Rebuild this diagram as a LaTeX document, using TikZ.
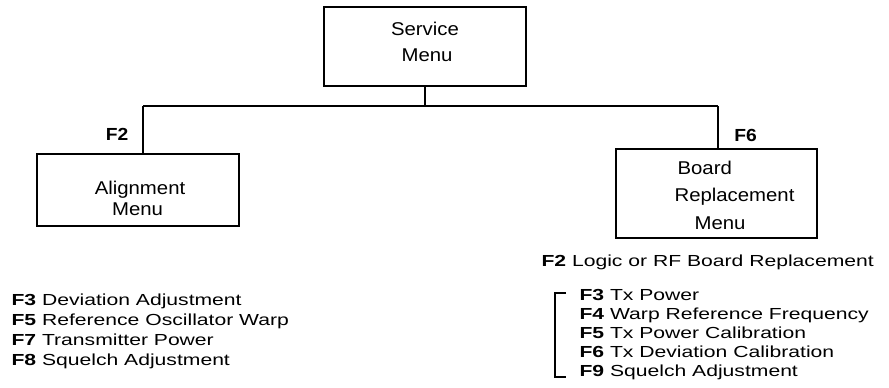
\documentclass[tikz,border=0pt]{standalone}
\usepackage{fontspec}
\setmainfont{Liberation Sans}
\newfontfamily\listfont[FakeStretch=1.32]{Liberation Sans}
\newfontfamily\boxfont[FakeStretch=1.1]{Liberation Sans}
\newfontfamily\labfont[FakeStretch=1.1]{Liberation Sans}
\begin{document}
\begin{tikzpicture}[x=1pt,y=-1pt,line width=1.1pt,
  lst/.style={font=\listfont\fontsize{16}{18}\selectfont,inner sep=0pt,anchor=base west},
  btxt/.style={font=\boxfont\fontsize{18.5}{20}\selectfont,inner sep=0pt},
  lab/.style={font=\labfont\fontsize{17.5}{19}\selectfont\bfseries,inner sep=0pt},
  box/.style={draw,inner sep=0pt}]
\useasboundingbox (0,0) rectangle (889,388);
% boxes
\node[box,minimum width=202pt,minimum height=79pt] (svc) at (425,46.5) {};
\node[box,minimum width=202pt,minimum height=72pt] (aln) at (138,190) {};
\node[box,minimum width=201pt,minimum height=89pt] (brd) at (716.5,193.5) {};
% box texts
\node[btxt,anchor=base] (svc1) at (425,35.7) {Service};
\node[btxt,anchor=base] (svc2) at (427,61) {Menu};
\node[btxt,anchor=base] (aln1) at (140,194.3) {Alignment};
\node[btxt,anchor=base] (aln2) at (137.5,215) {Menu};
\node[btxt,anchor=base west] (brd1) at (677,174.3) {Board};
\node[btxt,anchor=base west] (brd2) at (674,201.7) {Replacement};
\node[btxt,anchor=base west] (brd3) at (694,229) {Menu};
% connectors
\coordinate (hl) at (143,106);
\coordinate (hr) at (718,106);
\draw (svc.south) -- (svc.south |- hl);
\draw (hl) -- (hr);
\draw (hl) -- (hl |- aln.north);
\draw (hr) -- (hr |- brd.north);
\node[lab] (f2) at (117,134.5) {F2};
\node[lab] (f6) at (745.5,135) {F6};
% left list
\node[lst] (l1) at (11,305.7) {\textbf{F3} Deviation Adjustment};
\node[lst] (l2) at (11,325.7) {\textbf{F5} Reference Oscillator Warp};
\node[lst] (l3) at (11,345.7) {\textbf{F7} Transmitter Power};
\node[lst] (l4) at (11,365.7) {\textbf{F8} Squelch Adjustment};
% right list
\node[lst] (r0) at (541,266) {\textbf{F2} Logic or RF Board Replacement};
\node[lst] (r1) at (579,300.7) {\textbf{F3} Tx Power};
\node[lst] (r2) at (579,319.7) {\textbf{F4} Warp Reference Frequency};
\node[lst] (r3) at (579,338.7) {\textbf{F5} Tx Power Calibration};
\node[lst] (r4) at (579,357.7) {\textbf{F6} Tx Deviation Calibration};
\node[lst] (r5) at (579,376.7) {\textbf{F9} Squelch Adjustment};
\coordinate (bt) at (566,293);
\coordinate (bb) at (566,377);
\draw (bt) -- ++(-11,0) |- (bb);
\end{tikzpicture}
\end{document}
